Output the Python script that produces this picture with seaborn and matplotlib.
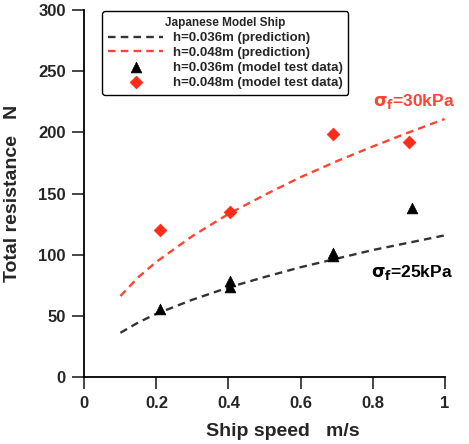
import matplotlib
matplotlib.use('Agg')
import matplotlib.pyplot as plt
import seaborn as sns
import pandas as pd

# prediction curves
curve_x = [0.1, 0.15, 0.2, 0.3, 0.4, 0.5, 0.6, 0.7, 0.8, 0.9, 1.0]
pred_036 = [36.5, 45, 52, 63.5, 73.5, 82, 90, 97, 104, 110, 116]
pred_048 = [66.5, 82, 94.5, 115.5, 133.5, 149, 163.5, 176.5, 188.5, 200, 211]

# model test data
test_036_x = [0.21, 0.405, 0.405, 0.69, 0.69, 0.91]
test_036_y = [56, 74, 78.5, 99, 101.5, 138]
test_048_x = [0.21, 0.405, 0.69, 0.90]
test_048_y = [120, 135.5, 199, 192]

BLACK = '#333333'
RED = '#ff4433'
MARK_RED = '#ff2a1a'

sns.set_style('ticks')
plt.rcParams['font.family'] = ['Liberation Sans', 'DejaVu Sans']
plt.rcParams['font.weight'] = 'bold'

fig = plt.figure(figsize=(4.69, 4.44), dpi=100)
ax = fig.add_axes([0.180, 0.1498, 0.768, 0.8277])

curves = pd.DataFrame({'x': curve_x, 'a': pred_036, 'b': pred_048})
sns.lineplot(data=curves, x='x', y='a', ax=ax, color=BLACK, lw=1.7,
             dashes=False, label='h=0.036m (prediction)').lines[-1].set_dashes([3.2, 2.2])
sns.lineplot(data=curves, x='x', y='b', ax=ax, color=RED, lw=1.7,
             dashes=False, label='h=0.048m (prediction)').lines[-1].set_dashes([3.2, 2.2])

sns.scatterplot(x=test_036_x, y=test_036_y, ax=ax, marker='^', s=60, color='black',
                edgecolor='black', linewidth=0.5, label='h=0.036m (model test data)', zorder=3)
sns.scatterplot(x=test_048_x, y=test_048_y, ax=ax, marker='D', s=42, color=MARK_RED,
                edgecolor=MARK_RED, linewidth=0.5, label='h=0.048m (model test data)', zorder=3)

ax.set_xlim(0, 1)
ax.set_ylim(0, 300)
ax.set_xticks([0, 0.2, 0.4, 0.6, 0.8, 1.0])
ax.set_xticklabels(['0', '0.2', '0.4', '0.6', '0.8', '1'], fontweight='bold')
ax.set_yticks(range(0, 301, 50))
ax.set_yticklabels([str(v) for v in range(0, 301, 50)], fontweight='bold')
ax.tick_params(axis='both', direction='out', length=8.5, width=1.2, labelsize=12, pad=5)
sns.despine(ax=ax)
for s in ['left', 'bottom']:
    ax.spines[s].set_linewidth(1.3)
    ax.spines[s].set_color('black')

ax.set_xlabel('Ship speed   m/s', fontsize=14, fontweight='bold')
ax.xaxis.set_label_coords(0.55, -0.125)
ax.set_ylabel('Total resistance   N', fontsize=14, fontweight='bold', labelpad=12)

ax.text(0.80, 225, r'$\mathrm{\sigma}_\mathrm{f}$=30kPa', color=RED, fontsize=12.5,
        fontweight='bold', va='center')
ax.text(0.795, 86, r'$\mathrm{\sigma}_\mathrm{f}$=25kPa', color='black', fontsize=12.5,
        fontweight='bold', va='center')

leg = ax.legend(loc='upper left', bbox_to_anchor=(0.045, 1.0), title='Japanese Model Ship',
                fontsize=9.5, title_fontproperties={'weight': 'bold', 'size': 8.5},
                handlelength=4.2, handletextpad=0.7, labelspacing=0.2, borderpad=0.45,
                borderaxespad=0.1, frameon=True, fancybox=True, edgecolor='black', framealpha=1)
leg.get_frame().set_linewidth(1.0)
for t in leg.get_texts():
    t.set_fontweight('bold')

fig.savefig('out.png', dpi=100)
